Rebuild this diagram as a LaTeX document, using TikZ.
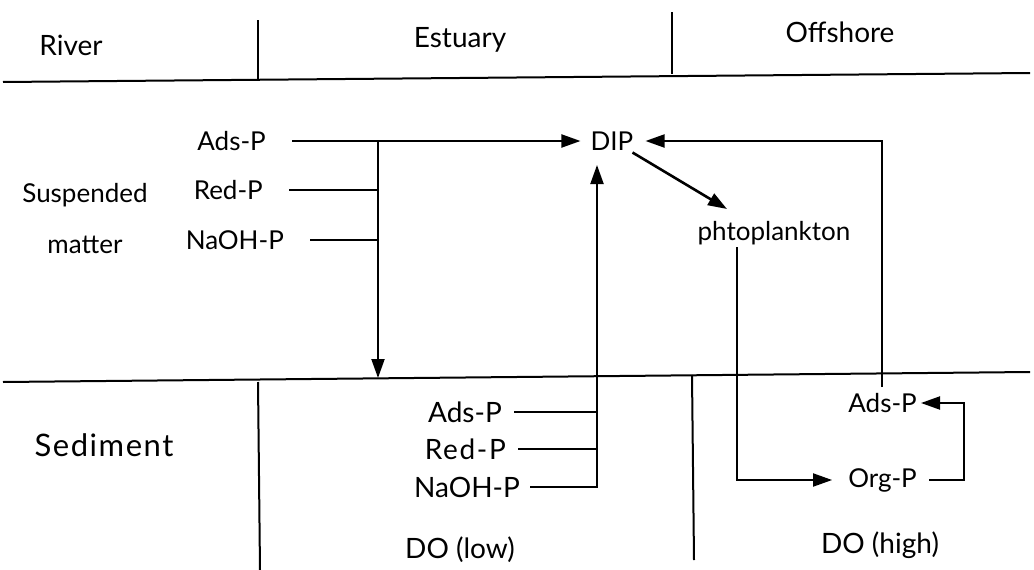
\documentclass[tikz,border=0pt]{standalone}
\usepackage{fontspec}
\setmainfont{Lato}
\usetikzlibrary{arrows.meta,positioning}

\begin{document}
\begin{tikzpicture}[
    x=1pt, y=-1pt,
    every node/.style={font=\fontsize{26}{30}\selectfont, inner sep=2pt},
    big/.style={font=\fontsize{28}{32}\selectfont},
    rule/.style={line width=2pt},
    link/.style={line width=2pt},
    arrow/.style={-{Triangle[length=19pt,width=13pt]}, line width=2pt}
]
\useasboundingbox (0,0) rectangle (1034,570);

% zone rules
\coordinate (topL) at (3,82);
\coordinate (topR) at (1030,73);
\coordinate (midL) at (3,382);
\coordinate (midR) at (1030,372);
\draw[rule] (topL) -- (topR);
\draw[rule] (midL) -- (midR);
\draw[rule] (258,20) -- (258,80);
\draw[rule] (672,12) -- (672,74);
\draw[rule] (258,382) -- (260,570);
\draw[rule] (692,375) -- (694,560);

% header
\node[big] (river) at (71,45) {River};
\node[big] (estuary) at (460,40) {Estuary};
\node[big] (offshore) at (840,32) {Offshore};

% suspended matter
\node (susp) at (85,195) {Suspended};
\node (matter) at (85,245) {matter};
\node[anchor=east] (adsS) at (268,141) {Ads-P};
\node[anchor=east] (redS) at (265,190) {Red-P};
\node[anchor=east] (naohS) at (286,240) {NaOH-P};
\node (dip) at (612,141) {DIP};
\node (phyto) at (774,233) {phtoplankton};

% sediment
\node[font=\fontsize{31}{35}\selectfont] (sed) at (104,445) {\addfontfeature{LetterSpace=5}Sediment};
\node[big, anchor=east] (adsB) at (504,412) {Ads-P};
\node[big, anchor=east] (redB) at (508,449) {\addfontfeature{LetterSpace=6}Red-P};
\node[big, anchor=east] (naohB) at (522,487) {NaOH-P};
\node[anchor=east] (adsO) at (919,403) {Ads-P};
\node[anchor=east] (orgO) at (919,480) {Org-P};
\node[big] (dolow) at (460,550) {DO (low)};
\node[big] (dohigh) at (880,545) {DO (high)};

% river input
\coordinate (jS) at (378,141);
\coordinate (dnS) at (378,378);
\draw[arrow] ([xshift=24pt]adsS.east) -- ([xshift=-8pt]dip.west);
\draw[link] ([xshift=24pt]redS.east) -- (redS.east -| jS);
\draw[link] ([xshift=24pt]naohS.east) -- (naohS.east -| jS);
\draw[arrow] (jS) -- (dnS);

% estuary release
\coordinate (upB) at (597,165);
\draw[link] ([xshift=10pt]adsB.east) -- (adsB.east -| upB);
\draw[link] ([xshift=10pt]redB.east) -- (redB.east -| upB);
\draw[arrow] ([xshift=8pt]naohB.east) -| (upB);

% offshore cycle
\coordinate (upO) at (882,387);
\draw[arrow, line width=2.6pt] ([xshift=-3pt]dip.south east) -- ([xshift=-47pt,yshift=10pt]phyto.north);
\draw[arrow] ([xshift=-37pt]phyto.south) |- ([xshift=-14pt]orgO.west);
\draw[arrow] ([xshift=10pt]orgO.east) -- ++(35,0) |- ([xshift=2pt]adsO.east);
\draw[arrow] (upO) |- ([xshift=10pt]dip.east);
\end{tikzpicture}
\end{document}
